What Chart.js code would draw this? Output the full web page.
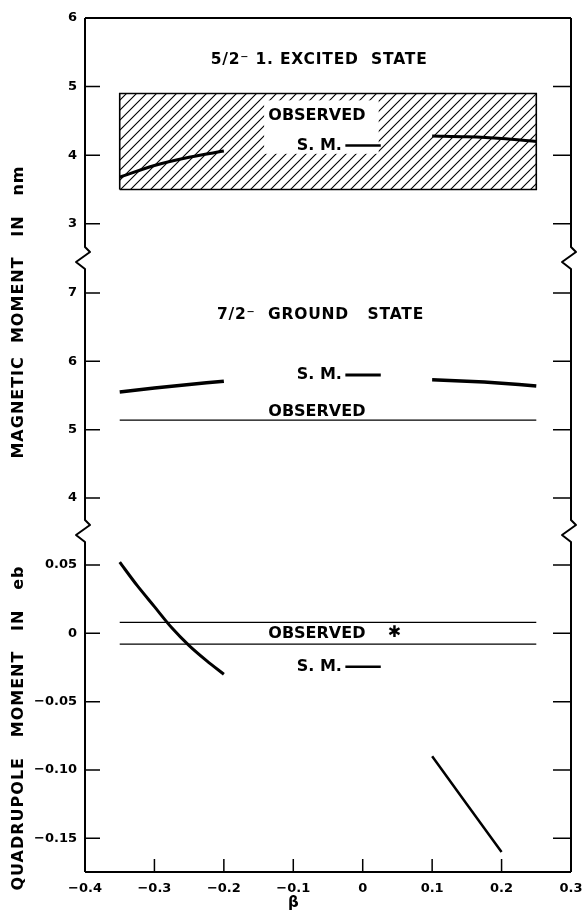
<!DOCTYPE html>
<html>
<head>
<meta charset="utf-8">
<script src="https://cdn.jsdelivr.net/npm/chart.js"></script>
<style>
  html, body { margin: 0; padding: 0; background: #fff; }
  #wrap { width: 585px; height: 914px; position: relative; }
</style>
</head>
<body>
<div id="wrap"><canvas id="momentChart"></canvas></div>
<script>
// beta (deformation) axis
const betaTicks = [-0.4, -0.3, -0.2, -0.1, 0, 0.1, 0.2, 0.3];

// 5/2- first excited state, magnetic moment in nm
const excitedSmLeftBeta = [-0.35, -0.3, -0.25, -0.2];
const excitedSmLeft = [3.68, 3.85, 3.97, 4.06];
const excitedSmRightBeta = [0.1, 0.15, 0.2, 0.25];
const excitedSmRight = [4.28, 4.27, 4.245, 4.2];
const excitedObsBeta = [-0.35, -0.35, 0.25, 0.25, -0.35];
const excitedObs = [3.5, 4.9, 4.9, 3.5, 3.5];

// 7/2- ground state, magnetic moment in nm
const groundSmLeftBeta = [-0.35, -0.3, -0.25, -0.2];
const groundSmLeft = [5.55, 5.61, 5.66, 5.71];
const groundSmRightBeta = [0.1, 0.15, 0.2, 0.25];
const groundSmRight = [5.73, 5.71, 5.68, 5.64];
const groundObsBeta = [-0.35, 0.25];
const groundObs = [5.14, 5.14];

// quadrupole moment in eb
const quadSmLeftBeta = [-0.35, -0.325, -0.3, -0.275, -0.25, -0.225, -0.2];
const quadSmLeft = [0.052, 0.035, 0.0195, 0.004, -0.009, -0.02, -0.03];
const quadSmRightBeta = [0.1, 0.2];
const quadSmRight = [-0.09, -0.16];
const quadObsBeta = [-0.35, 0.25];
const quadObsUpper = [0.008, 0.008];
const quadObsLower = [-0.008, -0.008];

// short "S.M. ——" key line in each panel
const smKeyBeta = [-0.025, 0.026];
const excitedSmKey = [4.14, 4.14];
const groundSmKey = [5.8, 5.8];
const quadSmKey = [-0.0245, -0.0245];

// value ranges of the three broken panels
const excitedRange = [2.545, 6];
const groundRange = [3.563, 7.554];
const quadRange = [-0.1746, 0.077];

// texts placed in data units
const notes = [
    { text: "5/2\u207B 1. EXCITED  STATE", axis: "yE", x: -0.219, y: 5.39, kind: "title" },
    { text: "OBSERVED", axis: "yE", x: -0.136, y: 4.57, kind: "label" },
    { text: "S. M.", axis: "yE", x: -0.095, y: 4.14, kind: "label" },
    { text: "7/2\u207B  GROUND   STATE", axis: "yG", x: -0.21, y: 6.68, kind: "title" },
    { text: "S. M.", axis: "yG", x: -0.095, y: 5.8, kind: "label" },
    { text: "OBSERVED", axis: "yG", x: -0.136, y: 5.26, kind: "label" },
    { text: "OBSERVED", axis: "yQ", x: -0.136, y: -0.0005, kind: "label" },
    { text: "\u2731", axis: "yQ", x: 0.036, y: 0.0005, kind: "label" },
    { text: "S. M.", axis: "yQ", x: -0.095, y: -0.0245, kind: "label" },
];
const axisTitles = [
    { text: "MAGNETIC  MOMENT   IN   nm", axis: "yG", y: 6.72 },
    { text: "QUADRUPOLE   MOMENT   IN   eb", axis: "yQ", y: -0.0693 },
];
// part of the hatching that is blanked out behind the labels
const eraseBeta = [-0.142, 0.023];
const eraseMoment = [4.02, 4.8];

const FONT = "'DejaVu Sans', sans-serif";
Chart.defaults.font.family = FONT;
Chart.defaults.color = "#000";

const pts = (xs, ys) => xs.map((x, i) => ({ x: x, y: ys[i] }));

function curve(label, xs, ys, axis, width) {
    return {
        label: label,
        data: pts(xs, ys),
        yAxisID: axis,
        borderColor: "#000",
        borderWidth: width,
        pointRadius: 0,
        tension: 0.3,
        fill: false,
    };
}

function hatch() {
    const c = document.createElement("canvas");
    c.width = 10;
    c.height = 10;
    const g = c.getContext("2d");
    g.strokeStyle = "#000";
    g.lineWidth = 1.1;
    g.beginPath();
    g.moveTo(0, 10); g.lineTo(10, 0);
    g.moveTo(-1, 1); g.lineTo(1, -1);
    g.moveTo(9, 11); g.lineTo(11, 9);
    g.stroke();
    return g.createPattern(c, "repeat");
}

const datasets = [
    curve("excited S.M. left", excitedSmLeftBeta, excitedSmLeft, "yE", 3),
    curve("excited S.M. right", excitedSmRightBeta, excitedSmRight, "yE", 3),
    curve("excited S.M. key", smKeyBeta, excitedSmKey, "yE", 2.5),
    curve("ground S.M. left", groundSmLeftBeta, groundSmLeft, "yG", 3.5),
    curve("ground S.M. right", groundSmRightBeta, groundSmRight, "yG", 3.5),
    curve("ground S.M. key", smKeyBeta, groundSmKey, "yG", 3),
    curve("ground observed", groundObsBeta, groundObs, "yG", 1.3),
    curve("quad S.M. left", quadSmLeftBeta, quadSmLeft, "yQ", 3),
    curve("quad S.M. right", quadSmRightBeta, quadSmRight, "yQ", 2.5),
    curve("quad S.M. key", smKeyBeta, quadSmKey, "yQ", 2.5),
    curve("quad observed upper", quadObsBeta, quadObsUpper, "yQ", 1.3),
    curve("quad observed lower", quadObsBeta, quadObsLower, "yQ", 1.3),
    {
        label: "excited observed",
        data: pts(excitedObsBeta, excitedObs),
        yAxisID: "yE",
        borderColor: "#000",
        borderWidth: 1.6,
        backgroundColor: hatch(),
        pointRadius: 0,
        tension: 0,
        fill: "shape",
    },
];
const boxIndex = datasets.length - 1;

const tickFont = { family: FONT, size: 13, weight: "bold" };

function fmt(v, digits) {
    if (Math.abs(v) < 1e-9) return "0";
    const s = Math.abs(v).toFixed(digits);
    return v < 0 ? "\u2212" + s : s;
}

function yScale(range, weight, step, digits) {
    return {
        type: "linear",
        position: "left",
        stack: "moments",
        stackWeight: weight,
        min: range[0],
        max: range[1],
        grid: { display: false, drawTicks: false },
        border: { display: false },
        ticks: {
            stepSize: step,
            includeBounds: false,
            padding: 8,
            font: tickFont,
            callback: (v) => fmt(v, digits),
        },
        afterFit: (s) => { s.width = 85; },
    };
}

const frame = {
    id: "frame",
    afterDatasetDraw(chart, args) {
        if (args.index !== boxIndex) return;
        const ys = chart.scales.yE, xs = chart.scales.x;
        const x0 = xs.getPixelForValue(eraseBeta[0]);
        const x1 = xs.getPixelForValue(eraseBeta[1]);
        const y0 = ys.getPixelForValue(eraseMoment[1]);
        const y1 = ys.getPixelForValue(eraseMoment[0]);
        chart.ctx.save();
        chart.ctx.fillStyle = "#fff";
        chart.ctx.fillRect(x0, y0, x1 - x0, y1 - y0);
        chart.ctx.restore();
    },
    afterDraw(chart) {
        const { ctx, chartArea: a, scales } = chart;
        const L = a.left, R = a.right, T = a.top, B = a.bottom;
        const breaks = [scales.yE.bottom, scales.yG.bottom];
        ctx.save();
        ctx.strokeStyle = "#000";
        ctx.lineWidth = 2;
        ctx.lineJoin = "round";
        ctx.beginPath();
        ctx.moveTo(L, B); ctx.lineTo(R, B);
        ctx.moveTo(L, T); ctx.lineTo(R, T);
        for (const x0 of [L, R]) {
            ctx.moveTo(x0, T);
            for (const b of breaks) {
                ctx.lineTo(x0, b - 8);
                ctx.lineTo(x0 + 5, b - 3);
                ctx.lineTo(x0 - 9, b + 7);
                ctx.lineTo(x0, b + 14);
            }
            ctx.lineTo(x0, B);
        }
        ctx.stroke();

        // ticks point inward on all three sides
        ctx.lineWidth = 1.5;
        ctx.beginPath();
        for (const id of ["yE", "yG", "yQ"]) {
            const s = scales[id];
            s.ticks.forEach((t) => {
                const y = s.getPixelForValue(t.value);
                if (y < T + 3) return;
                ctx.moveTo(L, y); ctx.lineTo(L + 15, y);
                ctx.moveTo(R - 18, y); ctx.lineTo(R, y);
            });
        }
        scales.x.ticks.forEach((t) => {
            const x = scales.x.getPixelForValue(t.value);
            if (x < L + 3 || x > R - 3) return;
            ctx.moveTo(x, B); ctx.lineTo(x, B - 13);
        });
        ctx.stroke();

        // labels
        ctx.fillStyle = "#000";
        ctx.textBaseline = "middle";
        ctx.textAlign = "left";
        for (const n of notes) {
            const title = n.kind === "title";
            ctx.font = "bold " + (title ? 15.5 : 16) + "px " + FONT;
            ctx.letterSpacing = title ? "0.8px" : "0px";
            ctx.fillText(n.text, scales.x.getPixelForValue(n.x), scales[n.axis].getPixelForValue(n.y));
        }

        // axis titles
        ctx.font = "bold 16px " + FONT;
        ctx.textAlign = "center";
        ctx.letterSpacing = "1px";
        for (const t of axisTitles) {
            ctx.save();
            ctx.translate(19, scales[t.axis].getPixelForValue(t.y));
            ctx.rotate(-Math.PI / 2);
            ctx.fillText(t.text, 0, 0);
            ctx.restore();
        }
        ctx.letterSpacing = "0px";
        ctx.font = "bold 15px " + FONT;
        ctx.fillText("\u03B2", scales.x.getPixelForValue(-0.1), B + 31);
        ctx.restore();
    },
};

const momentChart = new Chart(document.getElementById("momentChart"), {
    type: "line",
    data: { datasets: datasets },
    options: {
        responsive: true,
        maintainAspectRatio: false,
        animation: false,
        layout: { padding: { top: 18, right: 14, bottom: 0, left: 0 } },
        plugins: {
            legend: { display: false },
            tooltip: { enabled: false },
        },
        scales: {
            x: {
                type: "linear",
                min: betaTicks[0],
                max: betaTicks[betaTicks.length - 1],
                grid: { display: false, drawTicks: false },
                border: { display: false },
                afterBuildTicks: (s) => { s.ticks = betaTicks.map((v) => ({ value: v })); },
                ticks: {
                    padding: 9,
                    font: tickFont,
                    maxRotation: 0,
                    autoSkip: false,
                    callback: (v) => fmt(v, 1),
                },
                afterFit: (s) => {
                    s.height = 42;
                    s.paddingLeft = 0;
                    s.paddingRight = 0;
                },
            },
            yQ: yScale(quadRange, 344, 0.05, 2),
            yG: yScale(groundRange, 273, 1, 0),
            yE: yScale(excitedRange, 237, 1, 0),
        },
    },
    plugins: [frame],
});
</script>
</body>
</html>
